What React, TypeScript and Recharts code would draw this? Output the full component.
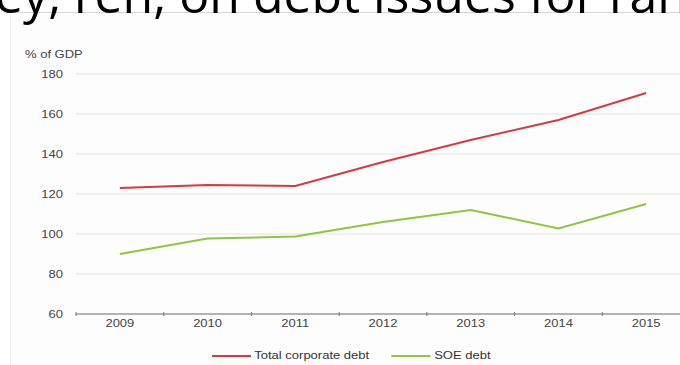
import React from "react";
import { LineChart, Line, XAxis, YAxis, CartesianGrid } from "recharts";

const YEARS = ["2009", "2010", "2011", "2012", "2013", "2014", "2015"];
const TOTAL_CORPORATE = [123, 124.5, 124, 136, 147, 157, 170.5];
const SOE_DEBT = [90, 97.7, 98.8, 106, 112, 102.8, 115];
const Y_TICKS = [60, 80, 100, 120, 140, 160, 180];

const SERIES = [
  { key: "total", name: "Total corporate debt", color: "#d43a45" },
  { key: "soe", name: "SOE debt", color: "#8dc63f" },
];

const data = YEARS.map((year, i) => ({
  year,
  total: TOTAL_CORPORATE[i],
  soe: SOE_DEBT[i],
}));

const FONT = "Arial, 'Liberation Sans', sans-serif";
// the source image is stretched sideways, so text is widened to match
const STRETCH = 1.3;

// boundary ticks sit between categories, label in the middle
const YearTick = (props: any) => {
  const { x, y, payload, index } = props;
  const half = payload?.offset ?? 44;
  return (
    <g>
      <line x1={x - half} x2={x - half} y1={y - 2} y2={y + 2} stroke="#777" />
      {index === YEARS.length - 1 && (
        <line x1={x + half} x2={x + half} y1={y - 2} y2={y + 2} stroke="#777" />
      )}
      <text
        transform={`translate(${x},${y + 13}) scale(${STRETCH},1)`}
        textAnchor="middle"
        fontSize={10}
        fill="#444"
        fontFamily={FONT}
      >
        {payload.value}
      </text>
    </g>
  );
};

const ValueTick = (props: any) => {
  const { x, y, payload } = props;
  return (
    <text
      transform={`translate(${x},${y + 3.5}) scale(${STRETCH},1)`}
      textAnchor="end"
      fontSize={10}
      fill="#444"
      fontFamily={FONT}
    >
      {payload.value}
    </text>
  );
};

export default function App() {
  return (
    <div
      style={{
        position: "fixed",
        left: 0,
        top: 0,
        width: 680,
        height: 365,
        overflow: "hidden",
        background: "#fff",
      }}
    >
      <div
        style={{
          position: "absolute",
          left: 10,
          top: 12,
          width: 690,
          height: 360,
          borderTop: "1px solid #d6d6d6",
          borderLeft: "1px solid #f0f0f0",
          background: "#fdfdfd",
        }}
      />
      <div
        style={{
          position: "absolute",
          left: -5,
          top: -31,
          fontFamily: "'Open Sans', sans-serif",
          fontSize: 50,
          lineHeight: "50px",
          whiteSpace: "nowrap",
          color: "#000",
        }}
      >
        ey, ren, on debt issues for ran
      </div>
      <div
        style={{
          position: "absolute",
          left: 25,
          top: 49,
          fontFamily: FONT,
          fontSize: 10,
          color: "#444",
          transform: `scaleX(${STRETCH})`,
          transformOrigin: "left",
        }}
      >
        % of GDP
      </div>
      <div style={{ position: "absolute", left: 0, top: 0 }}>
        <LineChart
          width={700}
          height={365}
          data={data}
          margin={{ top: 74, right: 10, bottom: 21, left: 0 }}
        >
          <CartesianGrid vertical={false} stroke="#e2e2e2" />
          <XAxis
            dataKey="year"
            scale="band"
            height={30}
            axisLine={{ stroke: "#777" }}
            tickLine={false}
            tickSize={0}
            tickMargin={0}
            tick={<YearTick />}
            interval={0}
          />
          <YAxis
            width={76}
            domain={[60, 180]}
            ticks={Y_TICKS}
            axisLine={false}
            tickLine={false}
            tickSize={0}
            tickMargin={13}
            tick={<ValueTick />}
          />
          {SERIES.map((s) => (
            <Line
              key={s.key}
              dataKey={s.key}
              name={s.name}
              stroke={s.color}
              strokeWidth={2}
              dot={false}
              isAnimationActive={false}
            />
          ))}
        </LineChart>
      </div>
      <div
        style={{
          position: "absolute",
          top: 350,
          left: 212,
          display: "flex",
          alignItems: "center",
          fontFamily: FONT,
          fontSize: 10,
          color: "#333",
          transform: `scaleX(${STRETCH})`,
          transformOrigin: "left",
        }}
      >
        {SERIES.map((s, i) => (
          <div
            key={s.key}
            style={{ display: "flex", alignItems: "center", marginLeft: i === 0 ? 0 : 17.5 }}
          >
            <div style={{ width: 30, height: 2, background: s.color, marginRight: 2.5 }} />
            <span>{s.name}</span>
          </div>
        ))}
      </div>
    </div>
  );
}
